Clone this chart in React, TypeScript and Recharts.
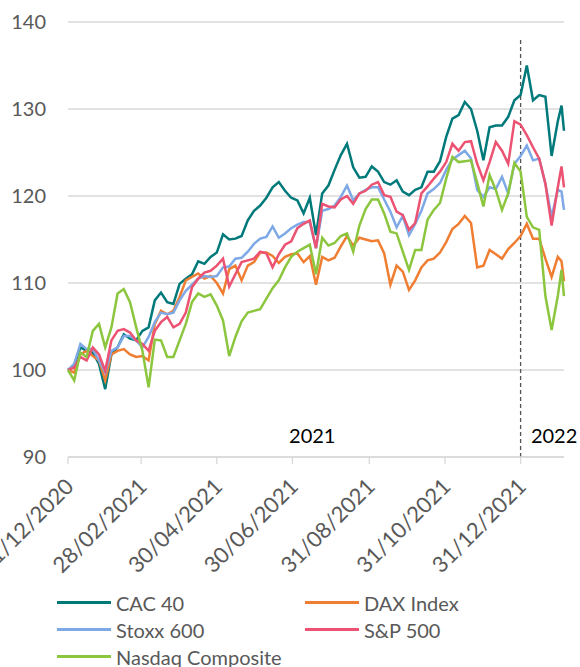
import {
  CartesianGrid,
  Legend,
  Line,
  LineChart,
  ReferenceDot,
  ReferenceLine,
  XAxis,
  YAxis,
} from "recharts";

// days since 31/12/2020
const days = [
  0, 5, 10, 15, 20, 25, 30, 35, 40, 45, 50, 55, 60, 65, 70, 75, 80, 85, 90, 95,
  100, 105, 110, 115, 120, 125, 130, 135, 140, 145, 150, 155, 160, 165, 170, 175,
  180, 185, 190, 195, 200, 205, 210, 215, 220, 225, 230, 235, 240, 245, 250, 255,
  260, 265, 270, 275, 280, 285, 290, 295, 300, 305, 310, 315, 320, 325, 330, 335,
  340, 345, 350, 355, 360, 365, 370, 375, 380, 385, 390, 395, 398, 400,
];

const cac40 = [
  100, 100.5, 102.6, 102.2, 102.0, 100.7, 97.8, 101.8, 102.6, 104.1, 103.6, 103.4,
  104.5, 104.9, 108.0, 108.9, 107.8, 107.6, 109.9, 110.5, 111.0, 112.5, 112.2, 113.0,
  113.5, 115.6, 115.0, 115.1, 115.4, 117.2, 118.3, 118.9, 119.8, 121.0, 121.6, 120.6,
  119.8, 119.5, 118.0, 119.8, 115.5, 120.3, 121.2, 123.0, 124.7, 126.0, 123.3, 122.1,
  122.2, 123.4, 122.8, 121.6, 121.3, 121.8, 120.5, 120.1, 120.7, 121.0, 122.8, 122.8,
  124.0, 126.8, 128.9, 129.3, 130.8, 130.0, 127.5, 124.1, 127.9, 128.1, 128.1, 129.1,
  131.0, 131.6, 135.0, 131.0, 131.6, 131.4, 124.6, 128.6, 130.4, 127.5,
];

const dax = [
  100, 99.7, 101.8, 102.2, 101.6, 101.1, 98.8, 101.8, 102.2, 102.4, 101.8, 101.5,
  101.6, 101.1, 105.3, 106.8, 106.4, 106.8, 108.4, 110.3, 110.7, 111.1, 110.5, 110.8,
  110.0, 108.8, 111.6, 112.0, 110.3, 112.0, 112.4, 113.5, 113.5, 113.1, 112.3, 113.0,
  113.3, 113.4, 112.4, 113.1, 109.8, 113.0, 112.6, 112.9, 114.2, 115.4, 114.3, 115.2,
  115.0, 114.8, 114.9, 113.4, 109.8, 112.0, 111.3, 109.2, 110.3, 111.8, 112.6, 112.8,
  113.5, 114.7, 116.2, 116.8, 117.7, 116.9, 111.8, 112.0, 113.8, 113.3, 112.8, 113.9,
  114.6, 115.4, 116.8, 115.1, 115.1, 112.8, 110.7, 113.0, 112.5, 110.2,
];

const stoxx600 = [
  100, 100.7, 103.0, 102.4, 102.4, 101.1, 99.7, 102.2, 102.6, 103.9, 103.9, 103.4,
  102.6, 103.8, 105.5, 106.6, 106.4, 106.6, 108.0, 109.1, 109.8, 110.5, 110.8, 110.7,
  110.8, 111.8, 111.9, 112.8, 112.9, 113.6, 114.5, 115.1, 115.3, 116.5, 115.2, 115.7,
  116.3, 116.7, 117.0, 117.0, 114.0, 118.3, 118.5, 118.9, 119.9, 121.2, 119.5, 120.3,
  120.7, 121.0, 121.0, 119.6, 118.2, 116.4, 117.7, 115.5, 116.8, 118.3, 120.3, 120.8,
  121.5, 123.0, 124.2, 124.7, 125.2, 124.3, 120.7, 119.9, 121.0, 120.8, 122.2, 120.3,
  123.7, 124.6, 125.8, 124.1, 124.3, 121.4, 117.6, 120.7, 120.5, 118.4,
];

const sp500 = [
  100, 100.3, 101.5, 101.1, 102.6, 101.8, 99.9, 103.4, 104.5, 104.7, 104.3, 103.4,
  103.0, 102.2, 104.5, 105.5, 106.1, 104.9, 105.3, 106.6, 109.5, 110.5, 111.2, 111.4,
  112.0, 112.8, 109.6, 111.0, 112.4, 112.6, 112.8, 113.6, 113.4, 111.8, 113.3, 114.4,
  114.8, 116.3, 116.8, 117.2, 114.0, 119.1, 118.8, 118.7, 119.6, 120.0, 119.1, 120.3,
  120.6, 121.3, 121.6, 120.1, 119.9, 118.2, 117.8, 116.1, 116.9, 120.3, 121.1, 122.0,
  122.8, 123.9, 126.0, 125.2, 126.2, 126.3, 123.7, 121.8, 123.9, 126.2, 125.2, 123.7,
  128.6, 128.2, 127.0, 125.6, 124.3, 121.4, 116.6, 121.0, 123.4, 121.0,
];

const nasdaq = [
  100, 98.8, 102.0, 101.5, 104.5, 105.3, 102.6, 104.9, 108.8, 109.3, 107.8, 104.9,
  102.2, 98.0, 103.5, 103.4, 101.5, 101.5, 103.4, 105.3, 107.8, 108.8, 108.4, 108.7,
  107.4, 105.7, 101.6, 103.8, 105.6, 106.6, 106.8, 107.0, 108.2, 109.4, 110.3, 111.8,
  113.0, 113.6, 114.0, 114.4, 111.0, 115.2, 114.3, 114.6, 115.4, 115.7, 113.6, 116.6,
  118.5, 119.6, 119.6, 118.0, 115.9, 115.7, 113.6, 111.5, 113.8, 113.8, 117.3, 118.4,
  119.2, 122.0, 124.5, 123.9, 124.0, 124.1, 121.5, 118.8, 122.4, 120.7, 118.4, 120.3,
  123.8, 122.8, 117.6, 116.4, 116.1, 108.5, 104.6, 108.5, 111.5, 108.5,
];

const seriesKeys = ["cac", "dax", "stoxx", "sp", "nasdaq"];
const seriesNames = ["CAC 40", "DAX Index", "Stoxx 600", "S&P 500", "Nasdaq Composite"];
const seriesColors = ["#00797A", "#EF7D32", "#7EA9E6", "#EC5272", "#8CC63F"];

const xTickDays = [0, 59, 120, 181, 243, 304, 365];
const xTickLabels = [
  "31/12/2020",
  "28/02/2021",
  "30/04/2021",
  "30/06/2021",
  "31/08/2021",
  "31/10/2021",
  "31/12/2021",
];
const yTicks = [90, 100, 110, 120, 130, 140];

const yearBreakDay = 365;
const yearLabels = ["2021", "2022"];
const yearLabelDays = [197, 392];
const yearLabelLevel = 92.45;

const data = days.map((d, i) => ({
  day: d,
  cac: cac40[i],
  dax: dax[i],
  stoxx: stoxx600[i],
  sp: sp500[i],
  nasdaq: nasdaq[i],
}));

const GREY = "#595959";
const GRID = "#D9D9D9";

function DateTick(props: any) {
  const { x, y, payload } = props;
  const idx = xTickDays.indexOf(payload.value);
  return (
    <text
      transform={`translate(${x + 7},${y + 24}) rotate(-45)`}
      textAnchor="end"
      fill={GREY}
      fontSize={22}
    >
      {idx >= 0 ? xTickLabels[idx] : ""}
    </text>
  );
}

// legend keeps the reference's two-column order
function LegendBox() {
  return (
    <div style={{ position: "relative", width: 580, height: 77 }}>
      {seriesNames.map((name, i) => (
        <div
          key={name}
          style={{
            position: "absolute",
            left: i % 2 === 0 ? 57 : 305,
            top: Math.floor(i / 2) * 27 - 1,
            height: 27,
            display: "flex",
            alignItems: "center",
            gap: 5,
          }}
        >
          <span
            style={{
              display: "inline-block",
              width: 54,
              height: 3,
              background: seriesColors[i],
            }}
          />
          <span style={{ fontSize: 20, color: GREY, whiteSpace: "nowrap" }}>
            {name}
          </span>
        </div>
      ))}
    </div>
  );
}

export default function App() {
  return (
    <div
      style={{
        position: "absolute",
        top: 0,
        left: 0,
        width: 580,
        height: 667,
        fontFamily: "Lato, sans-serif",
        background: "#fff",
      }}
    >
      <LineChart
        width={580}
        height={667}
        data={data}
        margin={{ top: 22, right: 16, left: 8, bottom: 0 }}
      >
        <CartesianGrid vertical={false} stroke={GRID} strokeWidth={1.3} />
        <XAxis
          dataKey="day"
          type="number"
          domain={[0, 400]}
          ticks={xTickDays}
          interval={0}
          height={133}
          tick={<DateTick />}
          tickSize={7}
          tickMargin={0}
          tickLine={{ stroke: GRID, strokeWidth: 1.3 }}
          axisLine={{ stroke: GRID, strokeWidth: 1.3 }}
        />
        <YAxis
          domain={[90, 140]}
          ticks={yTicks}
          width={60}
          axisLine={false}
          tickLine={false}
          tickSize={0}
          tickMargin={22}
          tick={{ fill: GREY, fontSize: 20 }}
        />
        <ReferenceLine
          segment={[
            { x: yearBreakDay, y: 90 },
            { x: yearBreakDay, y: 138 },
          ]}
          stroke="#555"
          strokeWidth={1.3}
          strokeDasharray="4 3"
        />
        {yearLabels.map((t, i) => (
          <ReferenceDot
            key={t}
            x={yearLabelDays[i]}
            y={yearLabelLevel}
            r={0}
            ifOverflow="visible"
            label={{ value: t, position: "center", fill: "#000", fontSize: 20 }}
          />
        ))}
        {seriesKeys.map((k, i) => (
          <Line
            key={k}
            type="linear"
            dataKey={k}
            name={seriesNames[i]}
            stroke={seriesColors[i]}
            strokeWidth={2.5}
            dot={false}
            isAnimationActive={false}
          />
        ))}
        <Legend
          verticalAlign="bottom"
          content={<LegendBox />}
          wrapperStyle={{ left: 0, width: 580 }}
        />
      </LineChart>
    </div>
  );
}
